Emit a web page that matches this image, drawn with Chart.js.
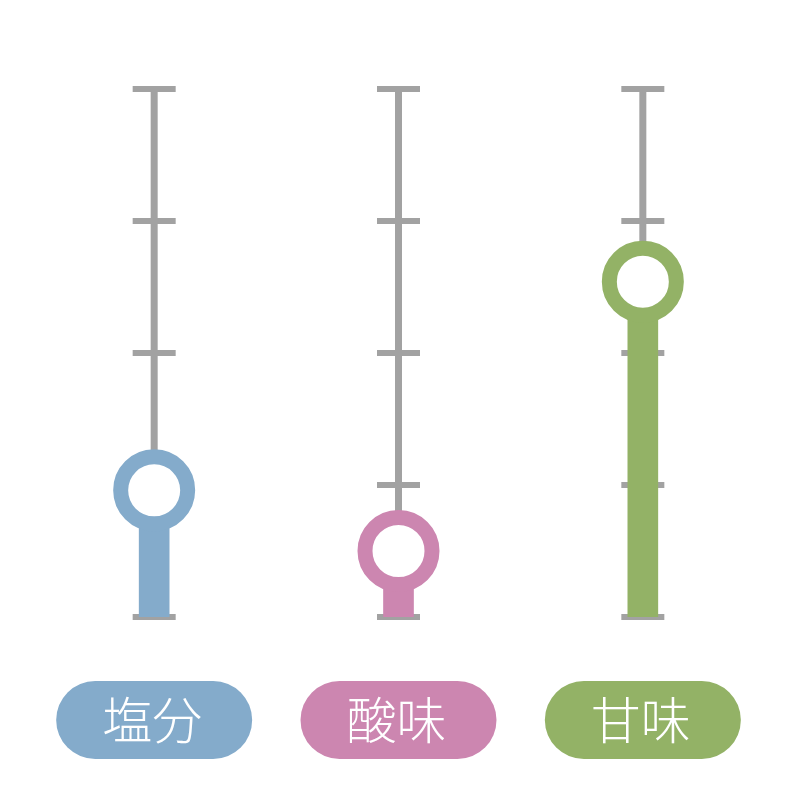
<!DOCTYPE html>
<html>
<head>
<meta charset="utf-8">
<script src="https://cdn.jsdelivr.net/npm/chart.js@4"></script>
<style>
    html, body { margin: 0; padding: 0; background: #fff; }
    #wrap { width: 800px; height: 800px; position: relative; }
</style>
</head>
<body>
<div id="wrap"><canvas id="myChart"></canvas></div>
<script>
const categories = ['塩分', '酸味', '甘味'];
const values = [24, 12.5, 63.5];
const colors = ['#84abcb', '#cc86b0', '#93b266'];
const tickValues = [0, 25, 50, 75, 100];

const grey = '#a2a2a2';

// grey scale lines with ticks behind each bar
const scaleLines = {
    id: 'scaleLines',
    beforeDatasetsDraw(chart) {
        const ctx = chart.ctx;
        const x = chart.scales.x;
        const y = chart.scales.y;
        ctx.save();
        ctx.fillStyle = grey;
        for (let i = 0; i < categories.length; i++) {
            const cx = x.getPixelForValue(i);
            const top = y.getPixelForValue(100);
            const bottom = y.getPixelForValue(0);
            ctx.fillRect(cx - 3.5, top, 7, bottom - top);
            for (let j = 0; j < tickValues.length; j++) {
                const ty = y.getPixelForValue(tickValues[j]);
                ctx.fillRect(cx - 21.5, ty - 3, 43, 6);
            }
        }
        ctx.restore();
    }
};

// rounded labels under the columns
const pillLabels = {
    id: 'pillLabels',
    afterDraw(chart) {
        const ctx = chart.ctx;
        const x = chart.scales.x;
        ctx.save();
        for (let i = 0; i < categories.length; i++) {
            const cx = x.getPixelForValue(i);
            const w = 196, h = 78, cy = 720;
            ctx.fillStyle = colors[i];
            ctx.beginPath();
            ctx.roundRect(cx - w / 2, cy - h / 2, w, h, h / 2);
            ctx.fill();
            ctx.fillStyle = '#fff';
            ctx.font = '300 50px "Noto Sans CJK JP"';
            ctx.textAlign = 'center';
            ctx.textBaseline = 'middle';
            ctx.fillText(categories[i], cx - 2, cy);
        }
        ctx.restore();
    }
};

const ctx = document.getElementById('myChart');

const myChart = new Chart(ctx, {
    type: 'bar',
    data: {
        labels: categories,
        datasets: [{
            type: 'line',
            data: values,
            showLine: false,
            pointStyle: 'circle',
            pointRadius: 33.5,
            pointHoverRadius: 33.5,
            pointBorderWidth: 15,
            pointHoverBorderWidth: 15,
            pointBackgroundColor: '#fff',
            pointBorderColor: colors,
            clip: false,
            order: 1
        }, {
            data: values,
            backgroundColor: colors,
            barThickness: 30,
            order: 2
        }]
    },
    options: {
        responsive: true,
        maintainAspectRatio: false,
        animation: false,
        layout: {
            autoPadding: false,
            padding: {left: 32, right: 35, top: 89, bottom: 183}
        },
        plugins: {
            legend: {display: false},
            tooltip: {enabled: false}
        },
        scales: {
            x: {display: false},
            y: {
                display: false,
                min: 0,
                max: 100,
                ticks: {stepSize: 25}
            }
        }
    },
    plugins: [scaleLines, pillLabels]
});
</script>
</body>
</html>
